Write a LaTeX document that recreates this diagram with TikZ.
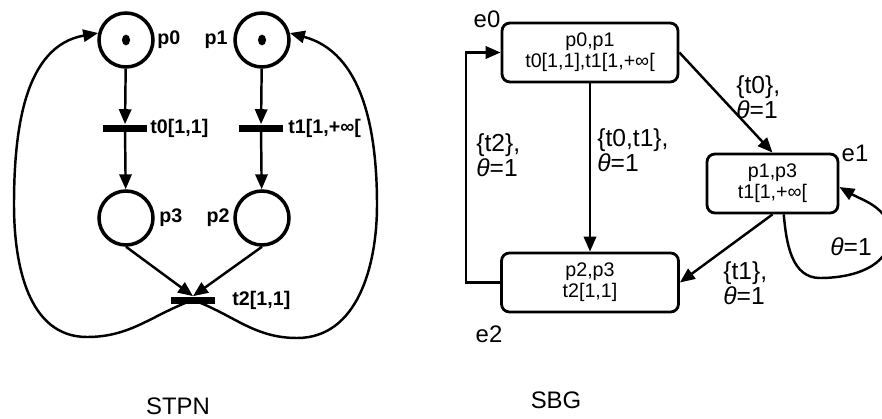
\documentclass[tikz,border=0pt]{standalone}
\usepackage{fontspec}
\setmainfont{Liberation Sans}
\usetikzlibrary{arrows.meta}
\tikzset{
  place/.style={circle,draw,line width=2pt,minimum size=1.08cm,inner sep=0pt},
  trans/.style={fill=black,minimum width=0.88cm,minimum height=0.14cm,inner sep=0pt},
  state/.style={draw,rounded corners=4.5pt,line width=1.6pt,minimum height=1.18cm,
    align=center,inner sep=0pt,font=\fontsize{11.2}{12}\selectfont},
  arc/.style={-{Triangle[length=8.5pt,width=7pt]},line width=1.4pt},
  plab/.style={font=\fontsize{11.2}{12}\selectfont\bfseries,inner sep=0pt},
  slab/.style={font=\fontsize{13.6}{14}\selectfont,inner sep=0pt},
  elab/.style={font=\fontsize{14}{14.2}\selectfont,align=left,inner sep=0pt,anchor=west}
}
\begin{document}
\begin{tikzpicture}[x=0.02cm,y=0.02cm]
    \useasboundingbox (0,0) rectangle (882,-419);
    \clip (0,0) rectangle (882,-419);
    \foreach \n/\x/\y in {p0/126/40,p1/262/40,p3/126/218,p2/262/218}
      \node[place] (\n) at (\x,-\y) {};
    \foreach \n in {p0,p1}
      \fill (\n) ellipse [x radius=2.3pt,y radius=3.1pt];
    \node[trans] (t0) at (125,-128) {};
    \node[trans] (t1) at (261,-128) {};
    \node[trans] (t2) at (193,-300) {};
    \draw[arc] (p0) -- (t0);
    \draw[arc] (t0) -- (p3);
    \draw[arc] (p1) -- (t1);
    \draw[arc] (t1) -- (p2);
    \draw[arc] (p3.south) -- (t2.north);
    \draw[arc] (p2.south) -- (t2.north);
    \draw[arc] (t2.center) to[out=200,in=0] (87,-337)
      to[out=180,in=-90] (14,-205) to[out=90,in=190] (p0.166);
    \draw[arc] (t2.center) to[out=-20,in=180] (297,-338)
      to[out=0,in=-90] (377,-205) to[out=90,in=-15] (p1.14);
    \node[plab,anchor=west] (lp0) at (157,-40) {p0};
    \node[plab,anchor=east] (lp1) at (228,-40) {p1};
    \node[plab,anchor=west] (lp3) at (159,-218) {p3};
    \node[plab,anchor=east] (lp2) at (230,-218) {p2};
    \node[plab,anchor=west] (lt0) at (150,-128) {t0[1,1]};
    \node[plab,anchor=west] (lt1) at (288,-128) {t1[1,+∞[};
    \node[plab,anchor=west] (lt2) at (232,-300) {t2[1,1]};
    \node[slab] (stpn) at (178,-406) {STPN};
    \node[state,minimum width=3.52cm] (e0) at (590,-52.5) {p0,p1\\t0[1,1],t1[1,+∞[};
    \node[state,minimum width=2.62cm] (e1) at (772.5,-183.5) {p1,p3\\t1[1,+∞[};
    \node[state,minimum width=3.54cm] (e2) at (590,-282.5) {p2,p3\\t2[1,1]};
    \node[slab] (le0) at (487,-19) {e0};
    \node[slab] (le1) at (855,-153) {e1};
    \node[slab] (le2) at (489,-334) {e2};
    \node[slab] (sbg) at (556,-400) {SBG};
    \node[elab] (l01) at (736,-97.5) {\{t0\},\\\textit{θ}=1};
    \node[elab] (l02) at (597,-150.5) {\{t0,t1\},\\\textit{θ}=1};
    \node[elab] (l20) at (476,-155) {\{t2\},\\\textit{θ}=1};
    \node[elab] (l12) at (723,-283) {\{t1\},\\\textit{θ}=1};
    \node[elab,anchor=center] (l11) at (851,-247) {\textit{θ}=1};
    \draw[arc] (e0) -- (e2);
    \draw[arc] (e0.east) -- (e1.north);
    \draw[arc] (e1.south) -- (e2.east);
    \draw[arc] (e2.west) -- ++(-34,0) |- (e0.west);
    \draw[arc] (e1.-70) to[out=-85,in=180] (820,-278)
      to[out=0,in=-90] (890,-235) to[out=90,in=-30] (e1.-3);
  \end{tikzpicture}
\end{document}
